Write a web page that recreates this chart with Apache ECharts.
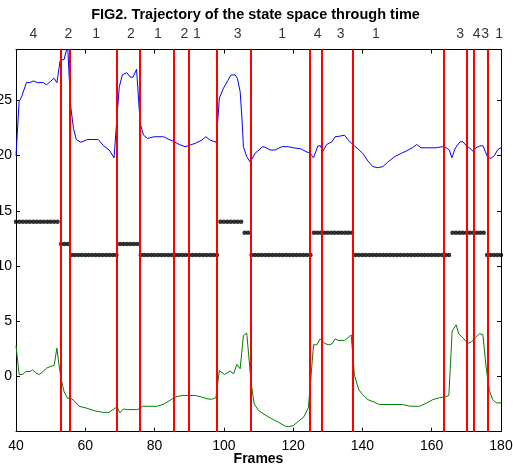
<!DOCTYPE html>
<html><head><meta charset="utf-8">
<script src="https://cdn.jsdelivr.net/npm/echarts@6/dist/echarts.min.js"></script>
<style>html,body{margin:0;padding:0;background:#fff}#c{width:513px;height:466px}</style>
</head><body><div id="c"></div>
<script>
const titleText = 'FIG2. Trajectory of the state space through time';
const xTickStep = 20;
const yTickStep = 5;

const blueFrames = [40,40.9,41.6,43,44,45,46.2,47.9,48.8,49.9,51,51.8,52.75,53.9,54.9,55.8,56.6,57.4,58.7,60.6,62,63.7,65.25,66.9,68.3,68.8,69.8,70.7,72,72.95,73.8,74.8,75.85,76.8,77.95,79.9,82.6,84.2,85.7,87.1,88.8,91.7,93.65,94.8,96.05,97.8,98.7,99.9,101.15,102.1,103.25,103.9,104.7,105.2,105.65,106.6,107.6,109,111.15,111.9,113.4,114.8,116.7,118.65,120.1,122.3,123.75,124.9,125.9,127.1,127.8,128.6,129.7,131.2,132.1,133.4,134.8,135.8,137.2,138.7,140.1,141.6,143,144.45,145.9,147.3,149.3,151.2,152.6,154.35,155.7,156.9,158.9,161.3,163,164.2,165.1,165.8,166.85,168.2,169,170.1,170.9,171.9,172.8,173.8,174.75,175.5,176.2,177.15,178.1,179.1,180];
const blueValues = [20.0,24.9,25.3,26.6,26.6,26.75,26.6,26.6,26.4,26.7,27.0,26.6,28.6,28.7,30.0,24.4,22.45,21.45,21.2,21.45,21.45,21.45,20.9,20.5,19.8,19.8,26.2,27.3,27.5,27.1,27.1,27.8,22.9,21.85,21.55,21.7,21.7,21.45,21.25,21.0,20.8,21.1,21.4,21.7,21.4,21.2,25.2,26.1,26.8,27.3,27.3,27.0,25.8,23.5,20.8,19.9,19.4,20.2,20.8,20.75,20.5,20.5,20.8,20.8,20.7,20.6,20.35,20.2,19.8,20.85,20.9,20.4,21.0,21.25,21.7,21.75,21.85,21.45,21.0,20.6,20.2,19.5,19.0,18.9,19.0,19.4,19.9,20.2,20.4,20.7,21.0,20.7,20.7,20.7,20.8,20.7,20.5,19.8,20.7,21.25,21.25,20.85,20.7,20.4,20.7,20.85,20.9,20.35,19.8,19.75,20.0,20.55,20.7];

const greenFrames = [40,40.9,41.9,42.9,44.1,44.8,45.7,46.7,47.65,48.8,50.1,51,51.8,52.3,53,53.9,54.9,55.8,56.8,58.2,60.2,62.6,65,66.9,68.6,69.3,70,70.95,72.2,75.1,76.5,77.95,80.8,82.8,84.7,86.15,87.9,91.7,93.65,95.55,96.7,97.7,98.7,100.2,101.8,102.8,103.75,104.7,105.65,106.6,107.1,107.9,108.75,110,111.9,113.85,115.75,117.7,118.65,120.1,121.5,123,124.4,125.9,126.85,127.8,129.05,130.2,131.2,132.1,133.1,134.8,135.8,136.75,137.7,138.95,140.1,141.6,143.45,144.9,147.8,151.65,153.55,156.45,158.4,160.3,162.2,163.7,164.95,165.9,167.05,167.8,169,170.4,171.35,172.6,173.8,174.75,175.7,176.65,177.6,178.6,180];
const greenValues = [2.8,0.18,0.18,0.45,0.45,0.6,0.33,0.18,0.4,0.75,0.93,1.0,2.57,1.3,-0.2,-1.4,-1.97,-1.97,-2.2,-2.7,-2.85,-3.1,-3.25,-3.25,-2.85,-2.85,-3.3,-2.95,-3.0,-3.0,-2.7,-2.7,-2.7,-2.48,-2.1,-1.85,-1.72,-1.72,-1.87,-2.05,-2.05,-1.93,0.54,0.18,0.48,0.24,1.09,0.7,3.72,3.93,3.9,-0.66,-2.48,-3.08,-3.48,-3.84,-4.14,-4.5,-4.55,-4.44,-4.05,-3.69,-2.84,2.87,2.87,3.4,3.0,2.87,2.95,3.4,3.26,3.26,3.5,3.77,0.1,-1.2,-1.66,-2.1,-2.33,-2.54,-2.54,-2.54,-2.69,-2.7,-2.42,-2.1,-1.93,-1.87,-1.72,4.1,4.68,3.87,3.5,3.0,3.1,3.5,3.87,3.8,0.85,-1.27,-2.1,-2.39,-2.39];

// state level per frame, frames 40..180
const dotFirstFrame = 40;
const dotLevels = [
14,14,14,14,14,14,14,14,14,14,14,14,14,
12,12,12,
11,11,11,11,11,11,11,11,11,11,11,11,11,11,
12,12,12,12,12,12,
11,11,11,11,11,11,11,11,11,11,11,11,11,11,11,11,11,11,11,11,11,11,11,
14,14,14,14,14,14,14,
13,13,
11,11,11,11,11,11,11,11,11,11,11,11,11,11,11,11,11,11,
13,13,13,13,13,13,13,13,13,13,13,13,
11,11,11,11,11,11,11,11,11,11,11,11,11,11,11,11,11,11,11,11,11,11,11,11,11,11,11,11,
13,13,13,13,13,13,13,13,13,13,
11,11,11,11,11];

const boundaries = [53.0,55.6,69.0,75.7,85.4,90.0,98.0,107.75,124.8,128.4,137.2,163.6,170.1,172.0,176.2];

const stateLabelFrames = [45.0,55.1,63.1,73.2,80.95,88.6,92.2,104.0,116.8,127.1,133.7,143.9,168.2,173.0,175.4,179.5];
const stateLabels = ['4','2','1','2','1','2','1','3','1','4','3','1','3','4','3','1'];
const stateLabelY = 31.0;

const FONT = "Arial, 'Liberation Sans', sans-serif";

const blueData = blueFrames.map((f, i) => [f, blueValues[i]]);
const greenData = greenFrames.map((f, i) => [f, greenValues[i]]);
const dotData = dotLevels.map((v, i) => [dotFirstFrame + i, v]);
const labelData = stateLabelFrames.map((f, i) => [f, stateLabelY, stateLabels[i]]);

const chart = echarts.init(document.getElementById('c'), null, {renderer: 'canvas'});
const axisCommon = {
  type: 'value',
  axisLine: {show: true, onZero: false, lineStyle: {color: '#000', width: 1}},
  axisTick: {show: true, inside: true, length: 4, lineStyle: {color: '#000'}},
  splitLine: {show: false}
};
chart.setOption({
  animation: false,
  backgroundColor: '#fff',
  title: {
    text: titleText, left: 250.5, top: 2, textAlign: 'center',
    textStyle: {fontFamily: FONT, fontWeight: 'bold', fontSize: 14.5, color: '#000'}
  },
  grid: {left: 16, right: 12, top: 49.5, bottom: 34.3, containLabel: false, outerBoundsMode: 'none'},
  xAxis: [
    Object.assign({}, axisCommon, {
      position: 'bottom', min: 40, max: 180, interval: xTickStep,
      axisLabel: {color: '#000', fontFamily: FONT, fontSize: 14, margin: 7},
      name: 'Frames', nameLocation: 'middle', nameGap: 20, nameMoveOverlap: false,
      nameTextStyle: {color: '#000', fontFamily: FONT, fontWeight: 'bold', fontSize: 14}
    }),
    Object.assign({}, axisCommon, {
      position: 'top', min: 40, max: 180, interval: xTickStep,
      axisLabel: {show: false}
    })
  ],
  yAxis: [
    Object.assign({}, axisCommon, {
      position: 'left', min: -5, max: 29.6, interval: yTickStep,
      axisLabel: {color: '#000', fontFamily: FONT, fontSize: 14, margin: 4, showMinLabel: false, showMaxLabel: false}
    }),
    Object.assign({}, axisCommon, {
      position: 'right', min: -5, max: 29.6, interval: yTickStep,
      axisLabel: {show: false}
    })
  ],
  series: [
    {type: 'line', data: blueData, symbol: 'none', lineStyle: {color: '#0000ff', width: 1}, z: 3, silent: true},
    {type: 'line', data: greenData, symbol: 'none', lineStyle: {color: '#008000', width: 1}, z: 3, silent: true},
    {type: 'scatter', data: dotData, symbol: 'circle', symbolSize: 4.5, itemStyle: {color: '#000'}, z: 4, silent: true},
    {type: 'line', data: [], z: 6, silent: true,
      markLine: {silent: true, symbol: 'none', label: {show: false},
        lineStyle: {color: '#ff0000', width: 2, type: 'solid'},
        emphasis: {disabled: true},
        data: boundaries.map(b => ({xAxis: b}))}
    },
    {type: 'scatter', data: labelData, symbolSize: 1, itemStyle: {color: 'rgba(0,0,0,0)'}, clip: false, silent: true, z: 7,
      label: {show: true, position: 'inside', formatter: p => p.data[2], color: '#000', fontFamily: FONT, fontSize: 14}
    }
  ]
});
</script>
</body></html>
